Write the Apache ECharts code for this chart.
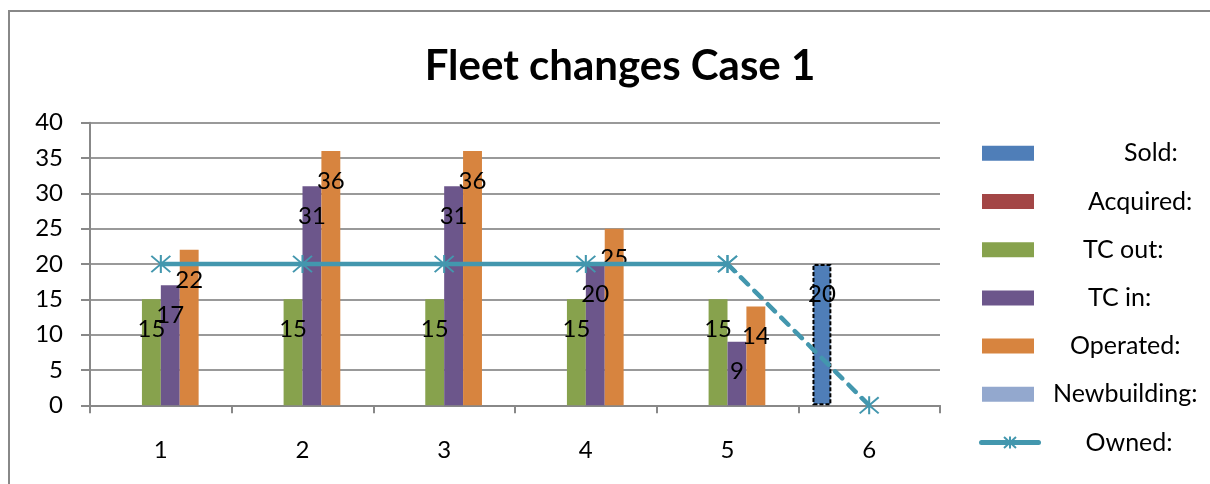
<!DOCTYPE html>
<html>
<head>
<meta charset="utf-8">
<script src="https://cdn.jsdelivr.net/npm/echarts@6/dist/echarts.min.js"></script>
<style>
  html, body { margin: 0; padding: 0; background: #fff; }
  #chart { width: 1210px; height: 484px; }
</style>
</head>
<body>
<div id="chart"></div>
<script>
// Fleet composition per year
const categories = ['1', '2', '3', '4', '5', '6'];
const sold        = [null, null, null, null, null, 20];
const acquired    = [null, null, null, null, null, null];
const tcOut       = [15, 15, 15, 15, 15, null];
const tcIn        = [17, 31, 31, 20, 9, null];
const operated    = [22, 36, 36, 25, 14, null];
const newbuilding = [null, null, null, null, null, null];
const owned       = [20, 20, 20, 20, 20, 0];
// the last step of the owned line is a projection, drawn dashed
const ownedSolidUntil = 4;

const FONT = 'Lato';
const colors = {
  'Sold:': '#4F7EB8',
  'Acquired:': '#A34646',
  'TC out:': '#87A24D',
  'TC in:': '#6C568B',
  'Operated:': '#D7843F',
  'Newbuilding:': '#93A8CE',
  'Owned:': '#4397AE'
};
// space between swatch and each legend label
const legendPad = {
  'Sold:': 89, 'Acquired:': 53, 'TC out:': 48, 'TC in:': 53,
  'Operated:': 35, 'Newbuilding:': 18, 'Owned:': 53
};
const legendNames = Object.keys(legendPad);
const legendTop0 = 148.3, legendStep = 48.2;

const asterisk = 'path://M10,0L10,20M0,1L20,19M0,19L20,1';

const barLabel = {
  show: true,
  position: ['50%', 30],
  align: 'center',
  verticalAlign: 'middle',
  color: '#000',
  fontFamily: FONT,
  fontSize: 24
};

function barSeries(name, values, extraStyle) {
  return {
    name: name,
    type: 'bar',
    data: values,
    barWidth: 18.9,
    barGap: '0%',
    itemStyle: Object.assign({ color: colors[name] }, extraStyle || {}),
    label: barLabel,
    emphasis: { disabled: true }
  };
}

const solidOwned = owned.map((v, i) => (i <= ownedSolidUntil ? v : '-'));
const dashedOwned = owned.map((v, i) => (i >= ownedSolidUntil ? v : '-'));

const lineStyleBase = { color: colors['Owned:'], width: 4.5 };
const markerStyle = { color: colors['Owned:'], borderColor: colors['Owned:'], borderWidth: 2 };

const legends = legendNames.map((n, i) => {
  const isLine = n === 'Owned:';
  return {
    orient: 'vertical',
    padding: 0,
    left: isLine ? 979 : 982,
    top: legendTop0 + i * legendStep - 7.5,
    itemWidth: isLine ? 57 : 52,
    itemHeight: 15,
    icon: isLine ? undefined : 'rect',
    selectedMode: false,
    data: [isLine
      ? { name: n, lineStyle: { width: 5, cap: 'round' }, itemStyle: { borderWidth: 2 } }
      : { name: n, itemStyle: { borderWidth: 0 } }],
    textStyle: {
      color: '#000',
      fontFamily: FONT,
      fontSize: 25,
      padding: [0, 0, 0, legendPad[n] - (isLine ? 11 : 4)]
    }
  };
});

const chart = echarts.init(document.getElementById('chart'), null, { renderer: 'canvas' });
chart.setOption({
  animation: false,
  backgroundColor: '#fff',
  textStyle: { fontFamily: FONT },
  title: {
    text: 'Fleet changes Case 1',
    left: 615,
    textAlign: 'center',
    top: 40,
    textStyle: { fontFamily: FONT, fontWeight: 'bold', fontSize: 42, color: '#000' }
  },
  graphic: [{
    type: 'rect',
    shape: { x: 9, y: 11, width: 1260, height: 540 },
    style: { fill: 'none', stroke: '#888', lineWidth: 2 },
    silent: true,
    z: -1
  }],
  legend: legends,
  grid: { left: 90, right: 270, top: 122.7, bottom: 78.7, containLabel: false },
  xAxis: {
    type: 'category',
    data: categories,
    axisLine: { lineStyle: { color: '#888', width: 2 } },
    axisTick: { show: true, length: 8, lineStyle: { color: '#888', width: 2 } },
    axisLabel: { color: '#000', fontFamily: FONT, fontSize: 24, margin: 33 },
    splitLine: { show: false }
  },
  yAxis: {
    type: 'value',
    min: 0, max: 40, interval: 5,
    axisLine: { show: true, lineStyle: { color: '#888', width: 2 } },
    axisTick: { show: true, length: 9, lineStyle: { color: '#888', width: 2 } },
    axisLabel: { color: '#000', fontFamily: FONT, fontSize: 24, margin: 27 },
    splitLine: { lineStyle: { color: '#999', width: 2 } }
  },
  series: [
    barSeries('Sold:', sold, { borderColor: '#000', borderWidth: 2, borderType: [4, 2] }),
    barSeries('Acquired:', acquired),
    barSeries('TC out:', tcOut),
    barSeries('TC in:', tcIn),
    barSeries('Operated:', operated),
    barSeries('Newbuilding:', newbuilding),
    {
      name: 'Owned:',
      type: 'line',
      data: solidOwned,
      symbol: asterisk,
      symbolSize: [19, 18],
      showAllSymbol: true,
      lineStyle: lineStyleBase,
      itemStyle: markerStyle,
      emphasis: { disabled: true },
      z: 3
    },
    {
      name: 'Owned projection',
      type: 'line',
      data: dashedOwned,
      symbol: asterisk,
      symbolSize: [19, 18],
      showAllSymbol: true,
      lineStyle: Object.assign({}, lineStyleBase, { type: [10, 9], cap: 'round' }),
      itemStyle: markerStyle,
      emphasis: { disabled: true },
      z: 3
    }
  ]
});
</script>
</body>
</html>
